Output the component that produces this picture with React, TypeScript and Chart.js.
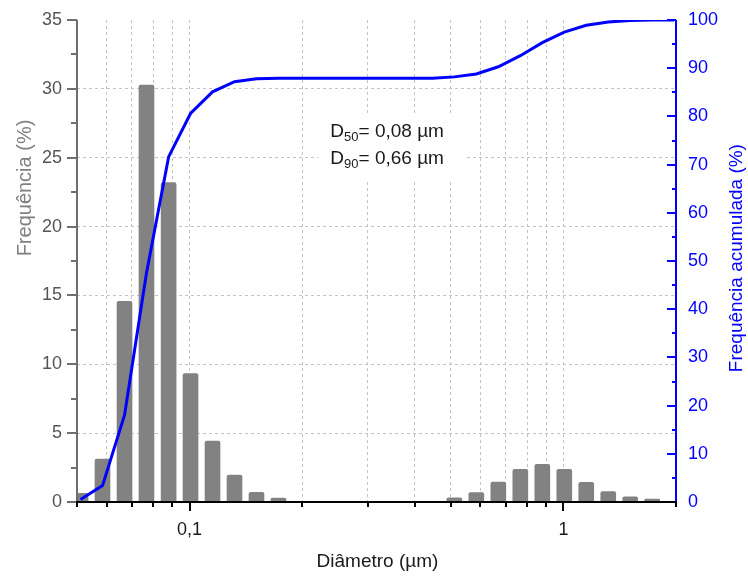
import React, { useEffect, useRef } from 'react';
import { Chart, registerables } from 'chart.js';

Chart.register(...registerables);

// Bin centres (µm)
const diametros = [
  0.0511, 0.0585, 0.0670, 0.0767, 0.0879, 0.1006, 0.1152, 0.1319, 0.1510, 0.1729,
  0.1980, 0.2267, 0.2595, 0.2972, 0.3403, 0.3896, 0.4461, 0.5108, 0.5848, 0.6696,
  0.7667, 0.8779, 1.0051, 1.1508, 1.3177, 1.5087, 1.7274, 1.9779,
];
// Frequência (%)
const frequencia = [
  0.63, 3.12, 14.57, 30.28, 23.19, 9.32, 4.43, 1.96, 0.70, 0.29,
  0, 0, 0, 0, 0, 0, 0, 0.30, 0.68, 1.45,
  2.38, 2.74, 2.38, 1.42, 0.75, 0.38, 0.22, 0,
];
// Frequência acumulada (%)
const acumulada = [
  0.5, 3.4, 18.0, 47.5, 71.6, 80.6, 85.1, 87.2, 87.8, 87.9,
  87.9, 87.9, 87.9, 87.9, 87.9, 87.9, 87.9, 88.2, 88.8, 90.3,
  92.6, 95.3, 97.5, 98.9, 99.6, 99.9, 100, 100,
];

const xGridTicks = [0.06, 0.07, 0.08, 0.09, 0.1, 0.2, 0.3, 0.4, 0.5, 0.6, 0.7, 0.8, 0.9, 1];
const xMajorTicks = [0.1, 1];
const xMinorTicks = [0.05, 0.06, 0.07, 0.08, 0.09, 0.2, 0.3, 0.4, 0.5, 0.6, 0.7, 0.8, 0.9, 2];
const xTickLabels = ['0,1', '1'];
const yMajorTicks = [0, 5, 10, 15, 20, 25, 30, 35];
const yMinorTicks = [2.5, 7.5, 12.5, 17.5, 22.5, 27.5, 32.5];
const y1MajorTicks = [0, 10, 20, 30, 40, 50, 60, 70, 80, 90, 100];
const y1MinorTicks = [5, 15, 25, 35, 45, 55, 65, 75, 85, 95];

const FONT = '"Liberation Sans", Arial, Helvetica, sans-serif';
const BLUE = '#0000ff';
const GRAY_AXIS = '#6e6e6e';

const zeroPadding = (scale: any) => {
  scale.paddingTop = 0;
  scale.paddingBottom = 0;
  scale.paddingLeft = 0;
  scale.paddingRight = 0;
};

const decorPlugin = {
  id: 'decor',
  beforeDatasetsDraw(chart: any) {
    const { ctx } = chart;
    const xs = chart.scales.x;
    const ys = chart.scales.y;
    const x0 = xs.getPixelForValue(0.238);
    const y0 = ys.getPixelForValue(26.5);
    ctx.save();
    ctx.fillStyle = '#ffffff';
    ctx.fillRect(x0 - 12, y0 - 23, 148, 65);
    ctx.fillStyle = '#1a1a1a';
    ctx.textBaseline = 'alphabetic';
    ctx.textAlign = 'left';
    const lines = [['50', '= 0,08 µm'], ['90', '= 0,66 µm']];
    lines.forEach((ln, i) => {
      const yb = y0 + i * 27;
      let cx = x0;
      ctx.font = `19px ${FONT}`;
      ctx.fillText('D', cx, yb);
      cx += ctx.measureText('D').width;
      ctx.font = `13px ${FONT}`;
      ctx.fillText(ln[0], cx, yb + 4);
      cx += ctx.measureText(ln[0]).width;
      ctx.font = `19px ${FONT}`;
      ctx.fillText(ln[1], cx, yb);
    });
    ctx.restore();
  },
  afterDatasetsDraw(chart: any) {
    const { ctx, chartArea } = chart;
    const xs = chart.scales.x;
    const ys = chart.scales.y;
    const y1 = chart.scales.y1;
    const { left, right, top, bottom } = chartArea;
    ctx.save();
    ctx.lineWidth = 2;
    // left axis
    ctx.strokeStyle = GRAY_AXIS;
    ctx.beginPath();
    ctx.moveTo(left, top);
    ctx.lineTo(left, bottom);
    yMajorTicks.forEach((v) => {
      const p = Math.round(ys.getPixelForValue(v));
      ctx.moveTo(left - 10, p);
      ctx.lineTo(left, p);
    });
    yMinorTicks.forEach((v) => {
      const p = Math.round(ys.getPixelForValue(v));
      ctx.moveTo(left - 6, p);
      ctx.lineTo(left, p);
    });
    ctx.stroke();
    // right axis
    ctx.strokeStyle = BLUE;
    ctx.beginPath();
    ctx.moveTo(right, top);
    ctx.lineTo(right, bottom);
    y1MajorTicks.forEach((v) => {
      const p = Math.round(y1.getPixelForValue(v));
      ctx.moveTo(right - 9, p);
      ctx.lineTo(right, p);
    });
    y1MinorTicks.forEach((v) => {
      const p = Math.round(y1.getPixelForValue(v));
      ctx.moveTo(right - 4, p);
      ctx.lineTo(right, p);
    });
    ctx.stroke();
    // bottom axis
    ctx.strokeStyle = '#000000';
    ctx.beginPath();
    ctx.moveTo(left - 1, bottom);
    ctx.lineTo(right, bottom);
    xMajorTicks.forEach((v) => {
      const p = Math.round(xs.getPixelForValue(v));
      ctx.moveTo(p, bottom);
      ctx.lineTo(p, bottom + 9);
    });
    xMinorTicks.forEach((v) => {
      const p = Math.round(xs.getPixelForValue(v));
      ctx.moveTo(p, bottom);
      ctx.lineTo(p, bottom + 5);
    });
    ctx.stroke();
    ctx.restore();
  },
  afterDraw(chart: any) {
    const { ctx, chartArea } = chart;
    const ys = chart.scales.y;
    const y1 = chart.scales.y1;
    ctx.save();
    ctx.textAlign = 'center';
    ctx.textBaseline = 'alphabetic';
    // bottom title
    ctx.font = `19px ${FONT}`;
    ctx.fillStyle = '#1a1a1a';
    ctx.fillText('Diâmetro (µm)', (chartArea.left + chartArea.right) / 2 + 1, 567);
    // left title
    ctx.save();
    ctx.font = `20px ${FONT}`;
    ctx.translate(31, ys.getPixelForValue(22.8));
    ctx.rotate(-Math.PI / 2);
    ctx.fillStyle = '#808080';
    ctx.fillText('Frequência (%)', 0, 0);
    ctx.restore();
    // right title
    ctx.save();
    ctx.font = `19px ${FONT}`;
    ctx.translate(742, y1.getPixelForValue(50.6));
    ctx.rotate(-Math.PI / 2);
    ctx.fillStyle = BLUE;
    ctx.fillText('Frequência acumulada (%)', 0, 0);
    ctx.restore();
    ctx.restore();
  },
};

export default function App() {
  const ref = useRef<HTMLCanvasElement | null>(null);

  useEffect(() => {
    if (!ref.current) return;
    const chart = new Chart(ref.current, {
      type: 'bar',
      data: {
        datasets: [
          {
            type: 'line',
            label: 'Frequência acumulada (%)',
            data: diametros.map((d, i) => ({ x: d, y: acumulada[i] })),
            yAxisID: 'y1',
            borderColor: BLUE,
            borderWidth: 3,
            pointRadius: 0,
            tension: 0,
            fill: false,
            order: 0,
          } as any,
          {
            type: 'bar',
            label: 'Frequência (%)',
            data: diametros.map((d, i) => ({ x: d, y: frequencia[i] })),
            yAxisID: 'y',
            backgroundColor: '#828282',
            borderWidth: 0,
            borderRadius: 2,
            barThickness: 15,
            order: 1,
          } as any,
        ],
      },
      options: {
        animation: false,
        responsive: true,
        maintainAspectRatio: false,
        layout: { padding: { top: 20, left: 0, right: 0, bottom: 0 } },
        plugins: {
          legend: { display: false },
          tooltip: { enabled: false },
        },
        scales: {
          x: {
            type: 'logarithmic',
            min: 0.05,
            max: 2,
            offset: false,
            afterBuildTicks: (scale: any) => {
              scale.ticks = xGridTicks.map((v) => ({ value: v }));
            },
            afterFit: (scale: any) => {
              scale.height = 75;
              zeroPadding(scale);
            },
            ticks: {
              autoSkip: false,
              maxRotation: 0,
              padding: 17,
              color: '#1a1a1a',
              font: { family: FONT, size: 18 },
              callback: (value: any) => {
                const idx = xMajorTicks.findIndex((m) => Math.abs(m - Number(value)) < 1e-9);
                return idx >= 0 ? xTickLabels[idx] : '';
              },
            },
            grid: {
              offset: false,
              color: '#c4c4c4',
              lineWidth: 1,
              drawTicks: false,
            },
            border: { display: false, dash: [3, 3] },
          },
          y: {
            type: 'linear',
            position: 'left',
            min: 0,
            max: 35,
            afterFit: (scale: any) => {
              scale.width = 77;
              zeroPadding(scale);
            },
            ticks: {
              stepSize: 5,
              padding: 15,
              color: '#555555',
              font: { family: FONT, size: 18 },
            },
            grid: {
              drawTicks: false,
              lineWidth: 1,
              color: (c: any) =>
                c.tick && (c.tick.value === 0 || c.tick.value === 35) ? 'rgba(0,0,0,0)' : '#c4c4c4',
            },
            border: { display: false, dash: [3, 3] },
          },
          y1: {
            type: 'linear',
            position: 'right',
            min: 0,
            max: 100,
            afterFit: (scale: any) => {
              scale.width = 72;
              zeroPadding(scale);
            },
            ticks: {
              stepSize: 10,
              padding: 12,
              color: BLUE,
              font: { family: FONT, size: 18 },
            },
            grid: { drawOnChartArea: false, drawTicks: false },
            border: { display: false },
          },
        },
      } as any,
      plugins: [decorPlugin],
    });
    return () => chart.destroy();
  }, []);

  return (
    <div style={{ position: 'absolute', left: 0, top: 0, width: 748, height: 577, background: '#ffffff' }}>
      <canvas ref={ref} />
    </div>
  );
}
